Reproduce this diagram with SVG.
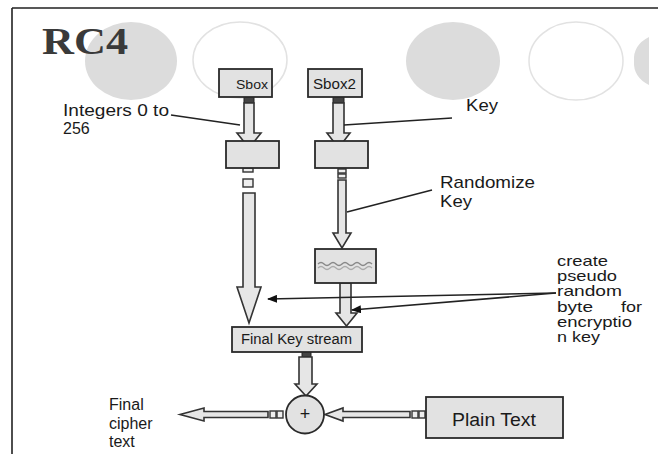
<svg xmlns="http://www.w3.org/2000/svg" width="658" height="454" viewBox="0 0 658 454">
<defs>
<style>
.lbl{font-family:"Liberation Sans",Arial,sans-serif;fill:#1a1a1a}
.box{fill:#e2e2e2;stroke:#2a2a2a;stroke-width:1.8}
.arr{fill:#e6e6e6;stroke:#333;stroke-width:1.6;stroke-linejoin:miter}
.con{fill:#444;stroke:#222;stroke-width:1}
.sq{fill:#eee;stroke:#333;stroke-width:1.4}
.lead{stroke:#222;stroke-width:1.6;fill:none}
.deco{fill:#dcdcdc}
.ring{fill:none;stroke:#e2e2e2;stroke-width:1.5}
</style>
<marker id="ah" markerWidth="10" markerHeight="8" refX="9" refY="4" orient="auto" markerUnits="userSpaceOnUse">
<path d="M0,0 L10,4 L0,8 Z" fill="#111"/>
</marker>
</defs>
<rect width="658" height="454" fill="#fff"/>
<g id="frame">
<path d="M12,8 H658 M12,8 V454" stroke="#222" stroke-width="1.6" fill="none"/>
</g>
<g id="decor">
<ellipse class="deco" cx="131" cy="61" rx="46" ry="39"/>
<ellipse class="ring" cx="240" cy="60" rx="47" ry="38"/>
<ellipse class="deco" cx="453" cy="61" rx="47" ry="39"/>
<ellipse class="ring" cx="576" cy="61" rx="47" ry="39"/>
<path class="deco" d="M649,37 Q633,45 634,61 Q633,77 649,85 Z"/>
</g>
<g id="title">
<text x="42" y="54" font-family="'Liberation Serif','Times New Roman',serif" font-weight="bold" font-size="38" fill="#3a3a3a" textLength="86" lengthAdjust="spacingAndGlyphs">RC4</text>
</g>
<g id="connectors">
<rect class="con" x="244" y="97" width="10" height="6"/>
<polygon class="arr" points="244,103 254,103 254,133 261,133 249,148 237,133 244,133"/>
<rect class="con" x="333" y="97" width="11" height="6"/>
<polygon class="arr" points="333,103 344,103 344,133 350,133 338.5,148 327,133 333,133"/>
<rect class="sq" x="243" y="168" width="10" height="4"/>
<rect class="sq" x="243" y="179" width="10" height="8"/>
<polygon class="arr" points="243,193 255,193 255,287 261,287 249,323 237,287 243,287"/>
<rect class="sq" x="338" y="169" width="8" height="4"/>
<rect class="sq" x="338" y="174" width="8" height="4"/>
<polygon class="arr" points="338,180 346,180 346,233 351,233 342,248 333,233 338,233"/>
<rect class="con" x="340" y="277" width="11" height="6"/>
<polygon class="arr" points="340,283 351,283 351,313 357,313 346.5,326 336,313 340,313"/>
<rect class="con" x="302" y="352" width="9" height="5"/>
<polygon class="arr" points="299,357 312,357 312,384 317,384 306,396 295,384 299,384"/>
<rect class="sq" x="270" y="411" width="6" height="7"/>
<rect class="sq" x="277" y="411" width="6" height="7"/>
<polygon class="arr" points="268,411.5 268,417.5 204,417.5 204,421 180,414.5 204,408 204,411.5"/>
<rect class="sq" x="412" y="411" width="6" height="7"/>
<rect class="sq" x="419" y="411" width="6" height="7"/>
<polygon class="arr" points="410,411.5 410,417.5 343,417.5 343,421 325,414.5 343,408 343,411.5"/>
<path class="lead" d="M171,115 L240,125"/>
<path class="lead" d="M452,118 L344,125"/>
<path class="lead" d="M432,190 L347,212"/>
<path class="lead" d="M556,293 L268,299" marker-end="url(#ah)"/>
<path class="lead" d="M556,293 L352,310" marker-end="url(#ah)"/>
</g>
<g id="sbox">
<rect class="box" x="219" y="69" width="53" height="28"/>
<text class="lbl" x="236" y="89" font-size="13" textLength="32" lengthAdjust="spacingAndGlyphs">Sbox</text>
</g>
<g id="sbox2">
<rect class="box" x="308" y="69" width="54" height="28"/>
<text class="lbl" x="313" y="89" font-size="14" textLength="43" lengthAdjust="spacingAndGlyphs">Sbox2</text>
</g>
<g id="box1">
<rect class="box" x="226" y="141" width="53" height="27"/>
</g>
<g id="box2">
<rect class="box" x="315" y="141" width="53" height="27"/>
</g>
<g id="box3">
<rect class="box" x="315" y="249" width="61" height="34"/>
<path d="M318,264 q3,-3 6,0 t6,0 t6,0 t6,0 t6,0 t6,0 t6,0 t6,0 t6,0" fill="none" stroke="#888" stroke-width="1.4"/>
<path d="M318,268 q3,-3 6,0 t6,0 t6,0 t6,0 t6,0 t6,0 t6,0 t6,0 t6,0" fill="none" stroke="#aaa" stroke-width="1.2"/>
</g>
<g id="finalkey">
<rect class="box" x="232" y="327" width="130" height="25"/>
<text class="lbl" x="241" y="344" font-size="14" textLength="111" lengthAdjust="spacingAndGlyphs">Final Key stream</text>
</g>
<g id="xor">
<circle cx="305" cy="414.5" r="19" fill="#e2e2e2" stroke="#2a2a2a" stroke-width="1.8"/>
<text class="lbl" x="305" y="420" font-size="18" text-anchor="middle">+</text>
</g>
<g id="plaintext">
<rect class="box" x="426" y="397" width="137" height="41"/>
<text class="lbl" x="494" y="426" font-size="18" text-anchor="middle" textLength="84" lengthAdjust="spacingAndGlyphs">Plain Text</text>
</g>
<g id="labels">
<text class="lbl" x="63" y="116" font-size="16" textLength="106" lengthAdjust="spacingAndGlyphs">Integers 0 to</text>
<text class="lbl" x="63" y="134" font-size="16">256</text>
<text class="lbl" x="466" y="111" font-size="17" textLength="32" lengthAdjust="spacingAndGlyphs">Key</text>
<text class="lbl" x="440" y="188" font-size="17" textLength="95" lengthAdjust="spacingAndGlyphs">Randomize</text>
<text class="lbl" x="440" y="207" font-size="17" textLength="32" lengthAdjust="spacingAndGlyphs">Key</text>
<text class="lbl" font-size="14.5">
<tspan x="557" y="266" textLength="51" lengthAdjust="spacingAndGlyphs">create</tspan>
<tspan x="557" y="281" textLength="60" lengthAdjust="spacingAndGlyphs">pseudo</tspan>
<tspan x="557" y="296" textLength="65" lengthAdjust="spacingAndGlyphs">random</tspan>
<tspan x="557" y="312" textLength="36" lengthAdjust="spacingAndGlyphs">byte</tspan>
<tspan x="621" y="312" textLength="21" lengthAdjust="spacingAndGlyphs">for</tspan>
<tspan x="557" y="327" textLength="75" lengthAdjust="spacingAndGlyphs">encryptio</tspan>
<tspan x="557" y="342" textLength="43" lengthAdjust="spacingAndGlyphs">n key</tspan>
</text>
<text class="lbl" font-size="16">
<tspan x="109" y="410">Final</tspan>
<tspan x="109" y="429">cipher</tspan>
<tspan x="109" y="447">text</tspan>
</text>
</g>
</svg>
